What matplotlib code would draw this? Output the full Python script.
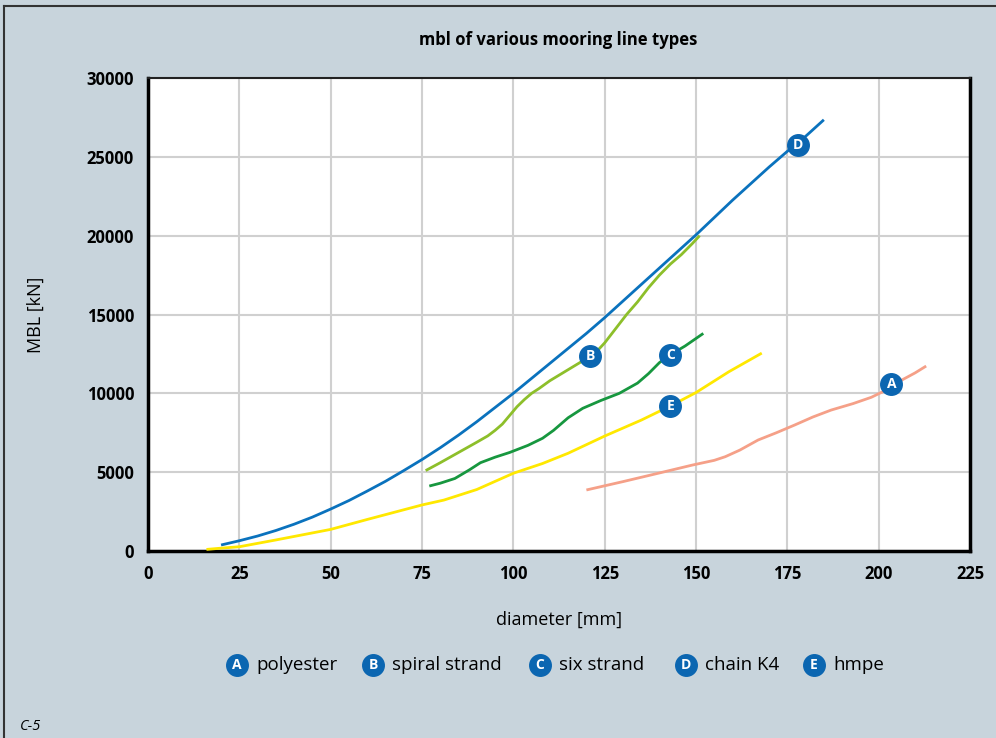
import matplotlib.pyplot as plt
from matplotlib.lines import Line2D

# values (diameter in mm, MBL in kN)
poly_d = [120, 130, 140, 149, 155, 158, 162, 167, 172, 177, 182, 187, 193, 198, 202, 206, 210, 213]
poly_mbl = [3870, 4400, 4950, 5450, 5750, 5980, 6400, 7040, 7500, 7990, 8500, 8940, 9350, 9750, 10200, 10800, 11300, 11730]

spiral_d = [76, 80, 85, 90, 93, 95, 97, 99, 101, 103, 105, 107, 110, 115, 120, 123, 125, 128, 131, 134, 137, 140, 143, 146, 149, 151]
spiral_mbl = [5100, 5600, 6250, 6900, 7300, 7650, 8050, 8600, 9150, 9600, 10000, 10300, 10800, 11500, 12200, 12700, 13200, 14100, 15000, 15800, 16700, 17500, 18200, 18800, 19500, 20000]

six_d = [77, 80, 84, 88, 91, 95, 99, 104, 108, 111, 115, 119, 124, 129, 134, 137, 140, 143, 147, 152]
six_mbl = [4120, 4300, 4600, 5150, 5600, 5950, 6250, 6700, 7150, 7650, 8450, 9050, 9550, 10000, 10650, 11250, 11950, 12450, 13000, 13800]

chain_d = [20, 25, 30, 35, 40, 45, 50, 55, 60, 65, 70, 75, 80, 85, 90, 95, 100, 105, 110, 115, 120,
           125, 130, 135, 140, 145, 150, 155, 160, 165, 170, 175, 180, 185]
chain_mbl = [380, 650, 950, 1300, 1700, 2150, 2660, 3200, 3800, 4420, 5100, 5800, 6550, 7350, 8200, 9100, 10000,
             10950, 11900, 12850, 13800, 14800, 15850, 16900, 17950, 19000, 20050, 21150, 22250, 23300, 24350,
             25350, 26300, 27350]

hmpe_d = [16, 20, 25, 35, 50, 60, 75, 81, 90, 100, 108, 115, 125, 135, 143, 150, 159, 168]
hmpe_mbl = [100, 180, 270, 700, 1370, 2000, 2920, 3230, 3900, 4930, 5550, 6200, 7290, 8300, 9200, 10050, 11370, 12550]

series = [
    ("A", "polyester", poly_d, poly_mbl, "#f5a088", (203.5, 10570)),
    ("B", "spiral strand", spiral_d, spiral_mbl, "#8dbf2a", (121, 12370)),
    ("C", "six strand", six_d, six_mbl, "#17973f", (143, 12430)),
    ("D", "chain K4", chain_d, chain_mbl, "#0a72bd", (178, 25750)),
    ("E", "hmpe", hmpe_d, hmpe_mbl, "#ffe800", (143, 9200)),
]
x_ticks = [0, 25, 50, 75, 100, 125, 150, 175, 200, 225]
y_ticks = [0, 5000, 10000, 15000, 20000, 25000, 30000]

plt.rcParams['font.family'] = ['Open Sans', 'DejaVu Sans']
bg = "#c8d4dc"
badge = "#0b66b1"

fig = plt.figure(figsize=(9.96, 7.38), dpi=100, facecolor=bg)
ax = fig.add_axes([148 / 996, 1 - 551 / 738, 822 / 996, 473 / 738])
ax.set_facecolor("white")

for letter, name, d, m, col, pos in series:
    ax.plot(d, m, color=col, lw=2, solid_capstyle="butt", solid_joinstyle="round", zorder=3)
    ax.plot(*pos, "o", ms=15.5, color=badge, zorder=4)
    ax.text(*pos, letter, color="white", fontsize=10, fontweight="bold",
            ha="center", va="center", zorder=5)

ax.set_xlim(0, 225)
ax.set_ylim(0, 30000)
ax.set_xticks(x_ticks)
ax.set_yticks(y_ticks)
ax.tick_params(length=0, labelsize=12, pad=10)
for lab in ax.get_xticklabels() + ax.get_yticklabels():
    lab.set_fontweight("bold")
ax.grid(True, color="#d0d0d0", lw=1.5)
ax.set_axisbelow(True)
for side in ["left", "right", "bottom"]:
    ax.spines[side].set_linewidth(2.5)
ax.spines["top"].set_linewidth(1.5)
ax.spines["top"].set_color("#222222")

ax.set_xlabel("diameter [mm]", fontsize=13, labelpad=20)
ax.set_ylabel("MBL [kN]", fontsize=13, labelpad=30)
fig.text(558 / 996, 1 - 40 / 738, "mbl of various mooring line types",
         ha="center", va="center", fontsize=12, fontweight="bold")

# legend with lettered badges
legend_x = [237, 373, 540, 686, 814]
for (letter, name, *_), lx in zip(series, legend_x):
    fx, fy = lx / 996, 1 - 665 / 738
    fig.add_artist(Line2D([fx], [fy], marker="o", ms=15.5, color=badge))
    fig.text(fx, fy, letter, color="white", fontsize=10, fontweight="bold",
             ha="center", va="center")
    fig.text(fx + 19 / 996, fy, name, fontsize=13.5, ha="left", va="center")

fig.text(20 / 996, 1 - 727 / 738, "C-5", fontsize=10.5, style="italic",
         ha="left", va="center")

# frame lines at the top and left edge
fig.add_artist(Line2D([4 / 996, 1], [1 - 6 / 738] * 2, color="#333333", lw=1.5))
fig.add_artist(Line2D([4 / 996] * 2, [0, 1 - 6 / 738], color="#333333", lw=1.5))

fig.savefig("out.png", dpi=100, facecolor=bg)
